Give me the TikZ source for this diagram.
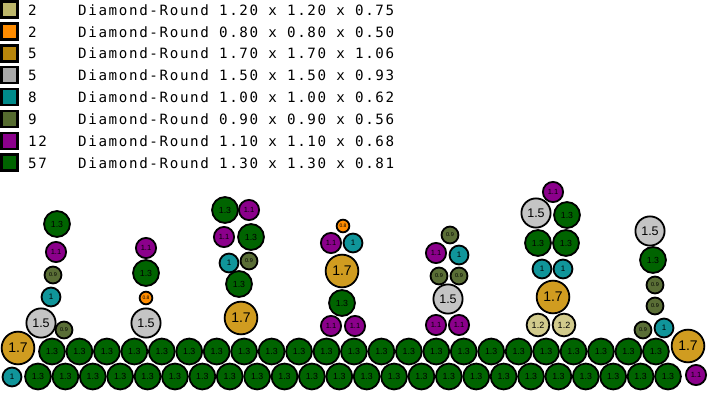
\documentclass[tikz,border=0pt]{standalone}
\usepackage{fontspec}
\usepackage{xcolor}
\usetikzlibrary{positioning}
\newfontfamily\legendfont[LetterSpace=11.5]{DejaVu Sans Mono}
\newfontfamily\labelfont{Liberation Sans}

% legend swatches
\definecolor{keykhaki}{HTML}{BDB76B}
\definecolor{keyorange}{HTML}{FF8C00}
\definecolor{keygold}{HTML}{B8860B}
\definecolor{keygray}{HTML}{A9A9A9}
\definecolor{keyteal}{HTML}{008B8B}
\definecolor{keyolive}{HTML}{556B2F}
\definecolor{keypurple}{HTML}{8B008B}
\definecolor{keygreen}{HTML}{006400}
% ball fills
\definecolor{balkhaki}{HTML}{D2CB8C}
\definecolor{balorange}{HTML}{FF8C00}
\definecolor{balgold}{HTML}{D09C20}
\definecolor{balgray}{HTML}{C4C4C4}
\definecolor{balteal}{HTML}{10959A}
\definecolor{balolive}{HTML}{5A6E36}
\definecolor{balpurple}{HTML}{8B008B}
\definecolor{balgreen}{HTML}{006400}

\begin{document}
\begin{tikzpicture}[x=1pt,y=-1pt,
  ball/.style={circle,draw=black,line width=1.8pt,inner sep=0pt,text=black},
  bseventeen/.style={ball,fill=balgold,minimum size=32.7pt,font=\labelfont\fontsize{14}{14}\selectfont},
  bfifteen/.style={ball,fill=balgray,minimum size=29.2pt,font=\labelfont\fontsize{12.5}{12.5}\selectfont},
  bthirteen/.style={ball,fill=balgreen,minimum size=25.9pt,font=\labelfont\fontsize{8.8}{8.8}\selectfont},
  btwelve/.style={ball,fill=balkhaki,minimum size=22.7pt,font=\labelfont\fontsize{9}{9}\selectfont},
  beleven/.style={ball,fill=balpurple,minimum size=20.2pt,font=\labelfont\fontsize{7.5}{7.5}\selectfont},
  bten/.style={ball,fill=balteal,minimum size=18.9pt,font=\labelfont\fontsize{8}{8}\selectfont},
  bnine/.style={ball,fill=balolive,minimum size=16.9pt,font=\labelfont\fontsize{5.5}{5.5}\selectfont},
  beight/.style={ball,fill=balorange,minimum size=12.7pt,font=\labelfont\fontsize{5}{5}\selectfont},
  keybox/.style={draw=black,line width=2.6pt,minimum size=16pt,inner sep=0pt},
  keytext/.style={anchor=base west,inner sep=0pt,font=\legendfont\fontsize{14.2}{14.2}\selectfont}]
\fill[white] (0,0) rectangle (710,393);
\useasboundingbox (0,0) rectangle (710,393);

% legend
\foreach \col/\num/\dims [count=\k] in {
    keykhaki/2/1.20 x 1.20 x 0.75,
    keyorange/2/0.80 x 0.80 x 0.50,
    keygold/5/1.70 x 1.70 x 1.06,
    keygray/5/1.50 x 1.50 x 0.93,
    keyteal/8/1.00 x 1.00 x 0.62,
    keyolive/9/0.90 x 0.90 x 0.56,
    keypurple/12/1.10 x 1.10 x 0.68,
    keygreen/57/1.30 x 1.30 x 0.81} {
  \node[keybox,fill=\col] (key\k) at (9.3,{9.5+21.9*(\k-1)}) {};
  \node[keytext] (cnt\k) at (28,{15.2+21.9*(\k-1)}) {\num};
  \node[keytext] (dsc\k) at (78,{15.2+21.9*(\k-1)}) {Diamond-Round \dims};
}

% base rows
\foreach \i in {1,...,24}
  \node[bthirteen] (bot\i) at ({38+27.39*(\i-1)},376.5) {1.3};
\foreach \i in {1,...,23}
  \node[bthirteen] (mid\i) at ({52+27.45*(\i-1)},351.5) {1.3};
\node[bten] (botl) at (12,377) {1};
\node[beleven] (botr) at (696,375) {1.1};
\node[bseventeen] (midl) at (18,348) {1.7};
\node[bseventeen] (midr) at (688,346) {1.7};

% stack 1
\node[bfifteen] (sa1) at (41,323) {1.5};
\node[bnine] (sa2) at (64,330) {0.9};
\node[bten] (sa3) at (51,297) {1};
\node[bnine] (sa4) at (53,275) {0.9};
\node[beleven] (sa5) at (56,252) {1.1};
\node[bthirteen] (sa6) at (57,224) {1.3};

% stack 2
\node[bfifteen] (sb1) at (146,323) {1.5};
\node[beight] (sb2) at (146,298) {0.8};
\node[bthirteen] (sb3) at (146,273) {1.3};
\node[beleven] (sb4) at (146,248) {1.1};

% stack 3
\node[bseventeen] (sc1) at (241,318) {1.7};
\node[bthirteen] (sc2) at (239,284) {1.3};
\node[bten] (sc3) at (229,263) {1};
\node[bnine] (sc4) at (249,261) {0.9};
\node[beleven] (sc5) at (224,237) {1.1};
\node[bthirteen] (sc6) at (251,237) {1.3};
\node[bthirteen] (sc7) at (225,210) {1.3};
\node[beleven] (sc8) at (249,210) {1.1};

% stack 4
\node[beleven] (sd1) at (331,326) {1.1};
\node[beleven] (sd2) at (355,326) {1.1};
\node[bthirteen] (sd3) at (342,303) {1.3};
\node[bseventeen] (sd4) at (342,271) {1.7};
\node[beleven] (sd5) at (331,243) {1.1};
\node[bten] (sd6) at (353,243) {1};
\node[beight] (sd7) at (343,226) {0.8};

% stack 5
\node[beleven] (se1) at (436,325) {1.1};
\node[beleven] (se2) at (459,325) {1.1};
\node[bfifteen] (se3) at (448,299) {1.5};
\node[bnine] (se4) at (439,276) {0.9};
\node[bnine] (se5) at (459,276) {0.9};
\node[beleven] (se6) at (436,253) {1.1};
\node[bten] (se7) at (459,255) {1};
\node[bnine] (se8) at (450,235) {0.9};

% stack 6
\node[btwelve] (sf1) at (538,325) {1.2};
\node[btwelve] (sf2) at (564,325) {1.2};
\node[bseventeen] (sf3) at (553,297) {1.7};
\node[bten] (sf4) at (542,269) {1};
\node[bten] (sf5) at (563,269) {1};
\node[bthirteen] (sf6) at (538,243) {1.3};
\node[bthirteen] (sf7) at (566,243) {1.3};
\node[bfifteen] (sf8) at (536,213) {1.5};
\node[bthirteen] (sf9) at (567,215) {1.3};
\node[beleven] (sf10) at (553,192) {1.1};

% stack 7
\node[bnine] (sg1) at (643,330) {0.9};
\node[bten] (sg2) at (664,328) {1};
\node[bnine] (sg3) at (655,306) {0.9};
\node[bnine] (sg4) at (655,285) {0.9};
\node[bthirteen] (sg5) at (653,260) {1.3};
\node[bfifteen] (sg6) at (650,231) {1.5};
\end{tikzpicture}
\end{document}
